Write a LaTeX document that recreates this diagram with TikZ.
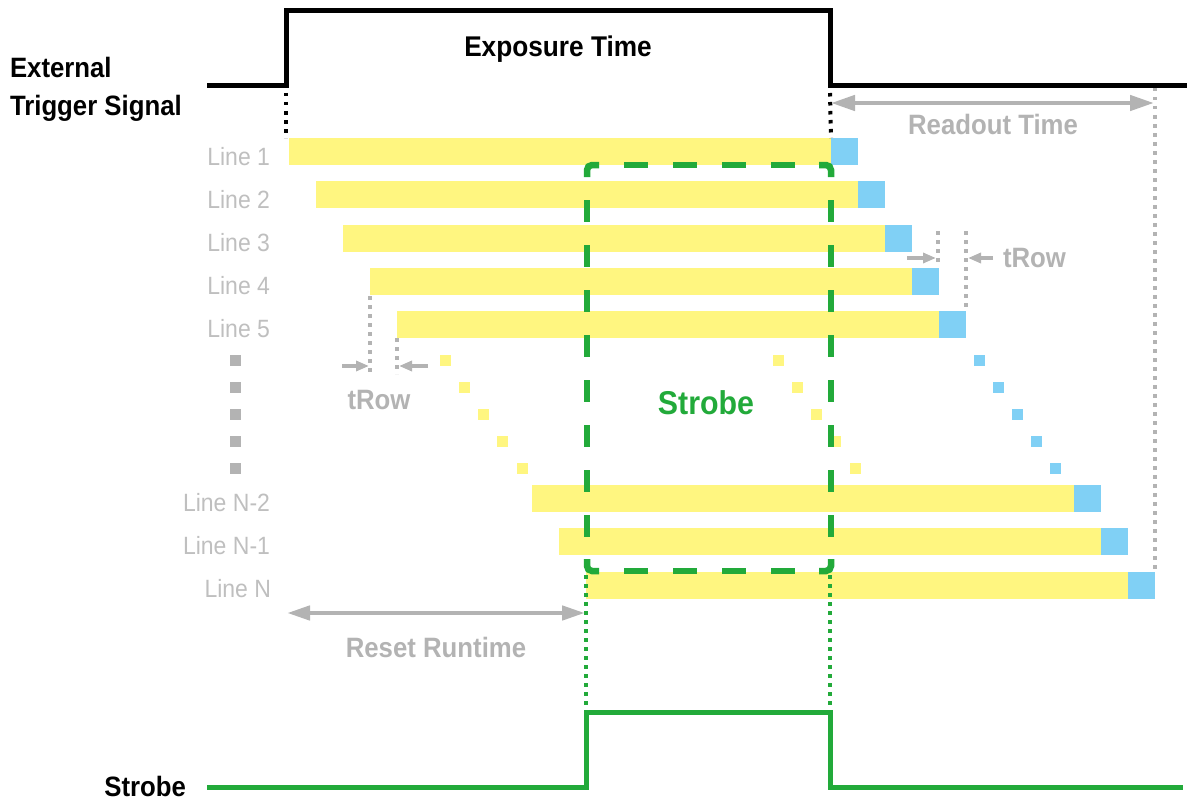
\documentclass[tikz,border=0pt]{standalone}
\usepackage{fontspec}
\setmainfont{Liberation Sans}[FakeStretch=0.92]
\usetikzlibrary{arrows.meta,positioning}
\definecolor{exposureyellow}{RGB}{255, 246, 128}
\definecolor{readoutblue}{RGB}{128, 208, 245}
\definecolor{strobegreen}{RGB}{34, 170, 58}
\definecolor{markgray}{RGB}{179, 179, 179}
\definecolor{labelgray}{RGB}{191, 191, 191}

\begin{document}
\begin{tikzpicture}[
    x=1pt, y=-1pt,
    every node/.style={inner sep=0pt, outer sep=0pt},
    expose/.style={rectangle, fill=exposureyellow, minimum height=27pt, minimum width=542pt, anchor=north west},
    readout/.style={rectangle, fill=readoutblue, minimum height=27pt, minimum width=27pt},
    dot/.style={rectangle, minimum size=11pt},
    rowlabel/.style={anchor=base east, text=labelgray, font=\fontsize{25}{25}\selectfont},
    title/.style={align=left, font=\fontsize{28}{39}\selectfont\bfseries},
    note/.style={anchor=base, text=markgray, font=\fontsize{28}{28}\selectfont\bfseries},
    signal/.style={line width=5pt},
    strobebox/.style={draw=strobegreen, line width=6.5pt},
    dots/.style={line width=4pt, dash pattern=on 3.5pt off 5.5pt},
    arrow/.style={line width=4.5pt, draw=markgray, >={Triangle[length=24pt,width=15pt]}},
    smallarrow/.style={line width=4pt, draw=markgray, ->, >={Triangle[length=13pt,width=10pt]}}
]
\useasboundingbox (0,0) rectangle (1187,800);

% Exposure and readout per line
\node[expose] (bar1) at (289,138) {};
\node[expose] (bar2) at (316,181.3) {};
\node[expose] (bar3) at (343,224.7) {};
\node[expose] (bar4) at (370,268) {};
\node[expose] (bar5) at (397,311.3) {};
\node[expose] (barN2) at (532,484.8) {};
\node[expose] (barN1) at (559,528.2) {};
\node[expose] (barN) at (586,571.5) {};
\node[readout, right=0pt of bar1] (cell1) {};
\node[readout, right=0pt of bar2] (cell2) {};
\node[readout, right=0pt of bar3] (cell3) {};
\node[readout, right=0pt of bar4] (cell4) {};
\node[readout, right=0pt of bar5] (cell5) {};
\node[readout, right=0pt of barN2] (cellN2) {};
\node[readout, right=0pt of barN1] (cellN1) {};
\node[readout, right=0pt of barN] (cellN) {};

% Skipped lines
\foreach \j in {0,...,4} {
    \node[dot, fill=markgray] (gd\j) at (235,360+27*\j) {};
    \node[dot, fill=exposureyellow] (ly\j) at (445+19.25*\j,360+27*\j) {};
    \node[dot, fill=exposureyellow] (ry\j) at (778+19.25*\j,360+27*\j) {};
    \node[dot, fill=readoutblue] (bd\j) at (979+19*\j,360+27*\j) {};
}

% Line labels
\node[rowlabel] (line1) at (270,165) {Line 1};
\node[rowlabel] (line2) at (270,208) {Line 2};
\node[rowlabel] (line3) at (270,251) {Line 3};
\node[rowlabel] (line4) at (270,294) {Line 4};
\node[rowlabel] (line5) at (270,337) {Line 5};
\node[rowlabel] (lineN2) at (270,511) {Line N-2};
\node[rowlabel] (lineN1) at (270,554) {Line N-1};
\node[rowlabel] (lineN) at (271,597) {Line N};

% Strobe window
\draw[strobebox, dash pattern=on 24pt off 25pt, dash phase=24pt] (599,165) -- (819,165);
\draw[strobebox, dash pattern=on 24pt off 25pt, dash phase=24pt] (599,571) -- (819,571);
\draw[strobebox, dash pattern=on 22pt off 23pt, dash phase=22pt] (587,177) -- (587,559);
\draw[strobebox, dash pattern=on 22pt off 23pt, dash phase=22pt] (831,177) -- (831,559);
\draw[strobebox, rounded corners=5pt] (587,177) -- (587,165) -- (599,165);
\draw[strobebox, rounded corners=5pt] (819,165) -- (831,165) -- (831,177);
\draw[strobebox, rounded corners=5pt] (587,559) -- (587,571) -- (599,571);
\draw[strobebox, rounded corners=5pt] (819,571) -- (831,571) -- (831,559);
\node[anchor=base, text=strobegreen, font=\fontsize{33}{33}\selectfont\bfseries] (strobelbl) at (706,414) {Strobe};

% Signals
\node[title, anchor=base west] (trigger) at (10,116) {External\\Trigger Signal};
\node[anchor=base, font=\fontsize{28.5}{28.5}\selectfont\bfseries] (exposure) at (558,57) {Exposure Time};
\draw[signal] (207,86) -| (286,11) -| (830,86) -- (1187,86);
\node[title, anchor=base east] (strobe) at (186,796) {Strobe};
\draw[signal, strobegreen] (207,787) -| (586,712) -| (830,787) -- (1183,787);

% Guides
\coordinate (trigA) at (286,93);
\coordinate (trigB) at (830,93);
\draw[dots] (trigA) -- (bar1.north west -| trigA);
\draw[dots] (trigB) -- (bar1.north east);
\draw[dots, strobegreen] (586,575) -- (586,710);
\draw[dots, strobegreen] (830,575) -- (830,710);
\draw[dots, markgray] (1155,88) -- (cellN.north east);
\draw[dots, markgray] (938,231) -- (938,265);
\draw[dots, markgray] (966,231) -- (966,308);
\draw[dots, markgray] (370,296) -- (370,374);
\draw[dots, markgray] (397,338) -- (397,374);

% Timing arrows
\coordinate (roA) at (831,103);
\coordinate (roB) at (1154,103);
\draw[arrow, <->] (roA) -- (roB);
\node[note] (readoutlbl) at (993,134) {Readout Time};
\coordinate (rsA) at (287,613);
\coordinate (rsB) at (585,613);
\draw[arrow, <->, >={Triangle[length=23pt,width=14pt]}] (rsA) -- (rsB);
\node[note] (resetlbl) at (436,657) {Reset Runtime};
\draw[smallarrow] (907,258) -- (936,258);
\draw[smallarrow] (993,258) -- (968,258);
\node[note, anchor=base west] (trowR) at (1003,267) {tRow};
\draw[smallarrow] (342,366) -- (369,366);
\draw[smallarrow] (428,366) -- (399,366);
\node[note] (trowL) at (379,409) {tRow};

\end{tikzpicture}
\end{document}
